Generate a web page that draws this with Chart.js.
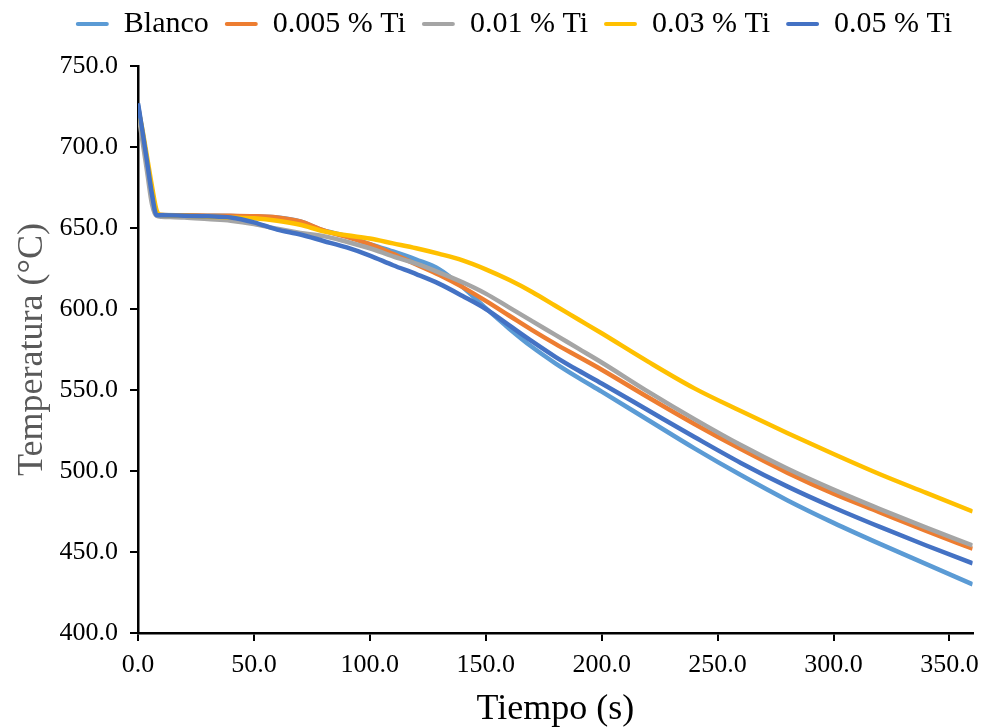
<!DOCTYPE html>
<html lang="es">
<head>
<meta charset="utf-8">
<title>Temperatura vs Tiempo</title>
<script src="https://cdn.jsdelivr.net/npm/chart.js@4.4.1/dist/chart.umd.min.js"></script>
<style>
  html, body { margin: 0; padding: 0; background: #ffffff; }
  #chart-box { width: 988px; height: 727px; }
</style>
</head>
<body>
<div id="chart-box"><canvas id="cooling-chart" width="988" height="727"></canvas></div>
<script>
// Cooling curves (t in s, T in °C)
const timeSeconds = [0, 2, 4, 6, 8, 10, 20, 30, 40, 50, 60, 70, 80, 90, 100, 110, 120, 130, 140, 150, 160, 170, 180, 190, 200, 220, 240, 260, 280, 300, 320, 340, 360]

const blanco = [726, 707.5, 689, 671, 658.3, 658, 657.8, 657.6, 657.4, 657, 656.5, 654, 648.5, 645, 640, 635.5, 630.5, 624.5, 613.5, 600.5, 588, 576.5, 566.5, 557.5, 549, 531.5, 514, 497.5, 482, 468, 455, 442.5, 430]
const ti0005 = [725, 708, 690, 672, 659, 658, 657.8, 657.6, 657.5, 657.3, 656.5, 654, 648.5, 644.5, 640, 634, 627.5, 621, 613.5, 605, 596, 587, 578.5, 570.5, 562.5, 545.5, 529, 513.5, 499, 486, 474.5, 463, 452]
const ti001 = [722, 703, 684, 665, 657.5, 657, 656.5, 655.5, 654.5, 652.5, 649.5, 647, 645, 641.5, 637.5, 632.5, 628, 622.5, 616.5, 609.5, 601, 592.5, 584, 575.5, 567, 549, 532, 516, 501.5, 488.5, 476.5, 465, 454]
const ti003 = [724, 710, 693, 676, 661, 658, 657.5, 657, 656.5, 656, 654.5, 652, 648, 645.5, 643.5, 640.5, 637.5, 634, 630, 624.5, 618, 610.5, 602, 593.5, 585, 567.5, 551, 537, 523.5, 510.5, 498, 486.5, 475]
const ti005 = [727, 709, 690, 671, 658, 657.8, 657.6, 657.2, 656.5, 653.5, 649, 646, 642, 638, 633, 627, 621.5, 615.5, 608, 600, 590, 580, 570.5, 562, 554, 537.5, 521, 505, 490.5, 477.5, 465.5, 454, 443]

const seriesLabels = ['Blanco', '0.005 % Ti', '0.01 % Ti', '0.03 % Ti', '0.05 % Ti']
const seriesValues = [blanco, ti0005, ti001, ti003, ti005]
const seriesColors = ['#5B9BD5', '#ED7D31', '#A5A5A5', '#FFC000', '#4472C4']

const SERIF = '"Liberation Serif", "Times New Roman", serif'

/**
 * Makes the legend band as tall as in the reference, so the plot starts at y = 66
 * (the layout starts 7px above the canvas to lift the legend row).
 */
const legendSpacer = {
  id: 'legendSpacer',
  beforeLayout(chart) {
    const legend = chart.legend
    if (legend && !legend._spaced) {
      const fit = legend.fit
      legend.fit = function () {
        fit.call(this)
        this.height = 73
      }
      legend._spaced = true
    }
  },
}

const datasets = seriesLabels.map((label, i) => ({
  label,
  data: timeSeconds.map((t, k) => ({ x: t, y: seriesValues[i][k] })),
  borderColor: seriesColors[i],
  backgroundColor: seriesColors[i],
  borderWidth: 4.5,
  pointRadius: 0,
  cubicInterpolationMode: 'monotone',
  // later series sit on top, as in the spreadsheet original
  order: seriesLabels.length - i,
}))

new Chart(document.getElementById('cooling-chart'), {
  type: 'line',
  data: { datasets },
  plugins: [legendSpacer],
  options: {
    responsive: false,
    animation: false,
    devicePixelRatio: 1,
    // left padding only nudges the legend; the y axis box fills the rest up to x = 138
    layout: { padding: { left: 50, right: 10, top: -7, bottom: 0 } },
    scales: {
      x: {
        type: 'linear',
        min: 0,
        max: 360,
        afterFit: (scale) => { scale.height = 94 },
        border: { color: '#000000', width: 2.5 },
        grid: { drawOnChartArea: false, color: '#000000', lineWidth: 2, tickLength: 8 },
        ticks: {
          stepSize: 50,
          includeBounds: false,
          color: '#000000',
          padding: 9,
          font: { family: SERIF, size: 26 },
          callback: (v) => Number(v).toFixed(1),
        },
        title: {
          display: true,
          text: 'Tiempo (s)',
          color: '#000000',
          font: { family: SERIF, size: 36, lineHeight: 1 },
          padding: { top: 0, bottom: -1 },
        },
      },
      y: {
        min: 400,
        max: 750,
        afterFit: (scale) => { scale.width = 88 },
        border: { color: '#000000', width: 2.5 },
        grid: { drawOnChartArea: false, color: '#000000', lineWidth: 2, tickLength: 8 },
        ticks: {
          stepSize: 50,
          color: '#000000',
          padding: 12,
          font: { family: SERIF, size: 26 },
          callback: (v) => Number(v).toFixed(1),
        },
        title: {
          display: true,
          text: 'Temperatura (°C)',
          color: '#595959',
          font: { family: SERIF, size: 36, lineHeight: 1.2 },
          padding: { top: -39, bottom: 0 },
        },
      },
    },
    plugins: {
      tooltip: { enabled: false },
      legend: {
        position: 'top',
        labels: {
          color: '#000000',
          font: { family: SERIF, size: 30 },
          boxWidth: 33,
          boxHeight: 4,
          padding: 16,
          useBorderRadius: true,
          borderRadius: 2,
          sort: (a, b) => a.datasetIndex - b.datasetIndex,
          generateLabels: (chart) =>
            Chart.defaults.plugins.legend.labels.generateLabels(chart).map((item) => ({ ...item, lineWidth: 0 })),
        },
      },
    },
  },
})
</script>
</body>
</html>
